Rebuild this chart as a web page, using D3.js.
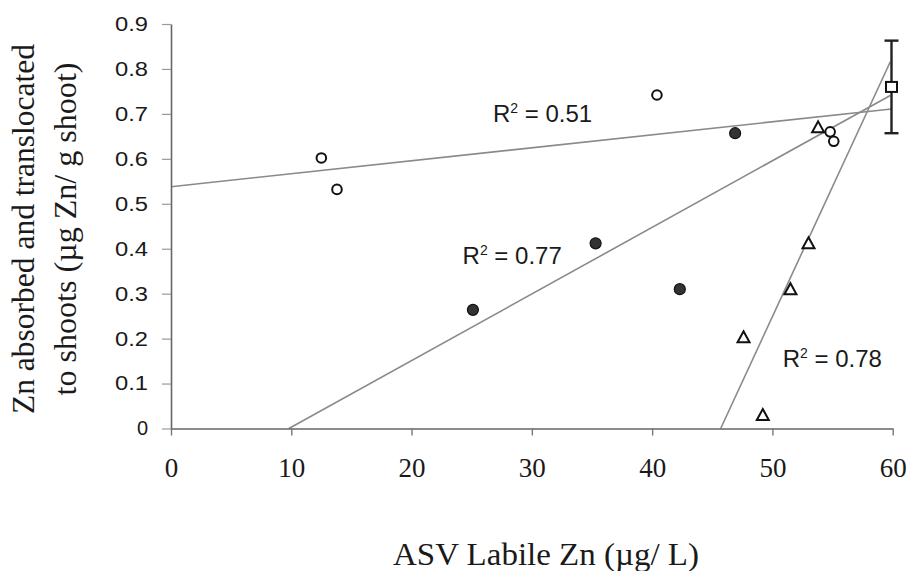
<html>
<head>
<meta charset="utf-8">
<script src="https://d3js.org/d3.v7.min.js"></script>
<style>
body {
	margin: 0;
	background: #fff;
}
</style>
</head>
<body>

<div id="chart"></div>

<script>
	// open circles
	var openX = [12.5, 13.8, 40.4, 54.8, 55.1];
	var openY = [0.602, 0.532, 0.742, 0.660, 0.639];
	// filled circles
	var filledX = [25.1, 35.3, 42.3, 46.9];
	var filledY = [0.264, 0.412, 0.310, 0.657];
	// triangles
	var triX = [47.6, 49.2, 51.5, 53.0, 53.8];
	var triY = [0.203, 0.030, 0.310, 0.412, 0.670];
	// square with error bar
	var sqX = [59.9];
	var sqY = [0.760];
	var sqErr = [0.103];

	// trend lines (start / end)
	var fitX0 = [0, 9.8, 45.7];
	var fitY0 = [0.538, 0, 0];
	var fitX1 = [59.9, 59.8, 59.8];
	var fitY1 = [0.711, 0.741, 0.816];
	var fitR2 = ["0.51", "0.77", "0.78"];

	var xTicks = [0, 10, 20, 30, 40, 50, 60];
	var yTicks = [0, 0.1, 0.2, 0.3, 0.4, 0.5, 0.6, 0.7, 0.8, 0.9];

	var width = 908, height = 571;

	var svg = d3.select("#chart")
		.append("svg")
		.attr("width", width)
		.attr("height", height)
		.style("background", "#fff");

	var x = d3.scaleLinear().domain([0, 60]).range([171, 892.7]);
	var y = d3.scaleLinear().domain([0, 0.9]).range([428.5, 24]);

	// trend lines
	svg.append("g")
		.selectAll("line")
		.data(fitX0)
		.enter().append("line")
		.attr("x1", (d, i) => x(fitX0[i]))
		.attr("y1", (d, i) => y(fitY0[i]))
		.attr("x2", (d, i) => x(fitX1[i]))
		.attr("y2", (d, i) => y(fitY1[i]))
		.attr("stroke", "#8a8a8a")
		.attr("stroke-width", 1.6);

	// y axis
	var yAxis = svg.append("g")
		.attr("transform", "translate(171,0)")
		.call(d3.axisLeft(y)
			.tickValues(yTicks)
			.tickSize(9)
			.tickSizeOuter(0)
			.tickPadding(14)
			.tickFormat(d => d === 0 ? "0" : d.toFixed(1)));

	yAxis.select(".domain").attr("stroke", "#666").attr("stroke-width", 1.6);
	yAxis.selectAll(".tick line").attr("stroke", "#999").attr("stroke-width", 1.2);
	yAxis.selectAll(".tick text")
		.style("font-family", "'Liberation Sans', Arial, sans-serif")
		.style("font-size", "20px")
		.attr("fill", "#1a1a1a")
		.each(function(d) {
			if (d !== 0) d3.select(this).attr("textLength", 33).attr("lengthAdjust", "spacingAndGlyphs");
		});

	// x axis
	var xAxis = svg.append("g")
		.attr("transform", "translate(0,428.5)")
		.call(d3.axisBottom(x)
			.tickValues(xTicks)
			.tickSize(7)
			.tickSizeOuter(0));

	xAxis.select(".domain").attr("stroke", "#666").attr("stroke-width", 1.6);
	xAxis.selectAll(".tick line").attr("stroke", "#777").attr("stroke-width", 1.4);
	xAxis.selectAll(".tick text")
		.attr("y", 48.5)
		.attr("dy", 0)
		.style("font-family", "'Liberation Serif', 'Times New Roman', serif")
		.style("font-size", "27px")
		.attr("fill", "#1a1a1a");

	// axis titles
	svg.append("text")
		.attr("transform", "translate(34,229) rotate(-90)")
		.attr("text-anchor", "middle")
		.attr("textLength", 370)
		.attr("lengthAdjust", "spacingAndGlyphs")
		.style("font-family", "'Liberation Serif', 'Times New Roman', serif")
		.style("font-size", "31px")
		.attr("fill", "#1a1a1a")
		.text("Zn absorbed and translocated");

	svg.append("text")
		.attr("transform", "translate(76,229) rotate(-90)")
		.attr("text-anchor", "middle")
		.attr("textLength", 333)
		.attr("lengthAdjust", "spacingAndGlyphs")
		.style("font-family", "'Liberation Serif', 'Times New Roman', serif")
		.style("font-size", "31px")
		.attr("fill", "#1a1a1a")
		.text("to shoots (\u00b5g Zn/ g shoot)");

	svg.append("text")
		.attr("x", 546)
		.attr("y", 565)
		.attr("text-anchor", "middle")
		.attr("textLength", 306)
		.attr("lengthAdjust", "spacingAndGlyphs")
		.style("font-family", "'Liberation Serif', 'Times New Roman', serif")
		.style("font-size", "31px")
		.attr("fill", "#1a1a1a")
		.text("ASV Labile Zn (\u00b5g/ L)");

	// R squared labels
	var labelPos = [[26.77, 0.683], [24.24, 0.367], [50.85, 0.136]];
	fitR2.forEach(function(r, i) {
		var t = svg.append("text")
			.attr("x", x(labelPos[i][0]))
			.attr("y", y(labelPos[i][1]))
			.style("font-family", "'Liberation Sans', Arial, sans-serif")
			.style("font-size", "24px")
			.attr("fill", "#1a1a1a");
		t.append("tspan").text("R");
		t.append("tspan").attr("dy", -9).style("font-size", "14px").text("2");
		t.append("tspan").attr("dy", 9).text(" = " + r);
	});

	// error bar
	var eb = svg.append("g").attr("stroke", "#222").attr("stroke-width", 2.4);
	sqX.forEach(function(d, i) {
		eb.append("line")
			.attr("x1", x(d)).attr("x2", x(d))
			.attr("y1", y(sqY[i] + sqErr[i])).attr("y2", y(sqY[i] - sqErr[i]));
		[sqY[i] + sqErr[i], sqY[i] - sqErr[i]].forEach(function(v) {
			eb.append("line")
				.attr("x1", x(d) - 7).attr("x2", x(d) + 7)
				.attr("y1", y(v)).attr("y2", y(v));
		});
	});

	// markers
	svg.append("g").selectAll("circle")
		.data(filledX)
		.enter().append("circle")
		.attr("cx", (d, i) => x(d))
		.attr("cy", (d, i) => y(filledY[i]))
		.attr("r", 5.5)
		.attr("fill", "#333")
		.attr("stroke", "#111")
		.attr("stroke-width", 1.2);

	svg.append("g").selectAll("circle")
		.data(openX)
		.enter().append("circle")
		.attr("cx", (d, i) => x(d))
		.attr("cy", (d, i) => y(openY[i]))
		.attr("r", 4.8)
		.attr("fill", "#fff")
		.attr("stroke", "#111")
		.attr("stroke-width", 2);

	svg.append("g").selectAll("path")
		.data(triX)
		.enter().append("path")
		.attr("transform", (d, i) => "translate(" + x(d) + "," + y(triY[i]) + ")")
		.attr("d", "M0,-6 L6,5 L-6,5 Z")
		.attr("fill", "#fff")
		.attr("stroke", "#111")
		.attr("stroke-width", 2)
		.attr("stroke-linejoin", "miter");

	svg.append("g").selectAll("rect")
		.data(sqX)
		.enter().append("rect")
		.attr("x", d => x(d) - 5.5)
		.attr("y", (d, i) => y(sqY[i]) - 5)
		.attr("width", 11)
		.attr("height", 10)
		.attr("fill", "#fff")
		.attr("stroke", "#111")
		.attr("stroke-width", 2);
</script>

</body>
</html>
